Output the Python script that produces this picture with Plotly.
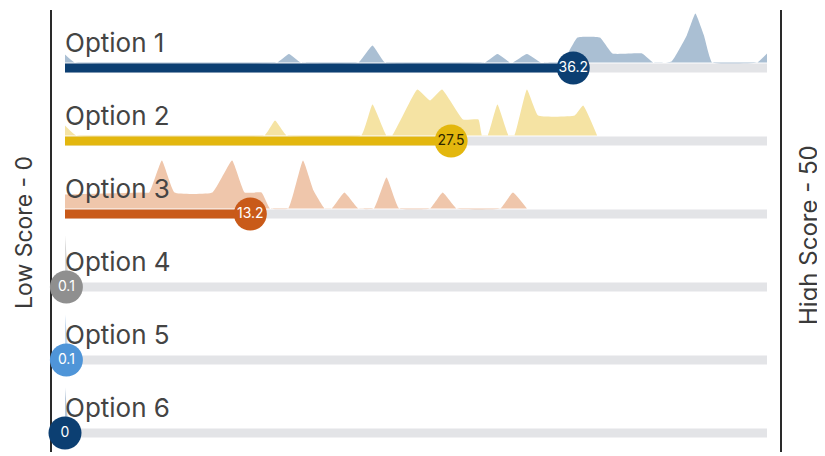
import plotly.graph_objects as go

# ---------------- data ----------------
options = ["Option 1", "Option 2", "Option 3", "Option 4", "Option 5", "Option 6"]
scores = [36.2, 27.5, 13.2, 0.1, 0.1, 0.0]
score_labels = ["36.2", "27.5", "13.2", "0.1", "0.1", "0"]

# response distributions (score, relative density) per option
dens1_x = [0, 0.7, 15.1, 15.95, 16.8, 20.9, 21.9, 22.8, 29.9, 30.8, 31.7, 31.9, 32.9, 33.9,
           35.4, 36.5, 38.1, 39.0, 41.1, 41.9, 43.2, 44.3, 44.9, 45.5, 46.1, 49.3, 50]
dens1_d = [0.16, 0, 0, 0.17, 0, 0, 0.34, 0, 0, 0.17, 0, 0, 0.17, 0,
           0, 0.5, 0.5, 0.18, 0.18, 0, 0.02, 0.55, 0.98, 0.55, 0, 0, 0.18]
dens2_x = [0, 0.8, 14.2, 14.96, 15.8, 21.1, 21.9, 22.9, 23.3, 25.1, 26.0, 26.85, 28.35, 29.45,
           29.7, 30.1, 30.8, 31.6, 32.0, 32.9, 33.7, 36.3, 36.9, 37.9]
dens2_d = [0.2, 0, 0, 0.3, 0, 0, 0.62, 0, 0, 0.92, 0.7, 0.92, 0.32, 0.32,
           0, 0, 0.62, 0, 0, 0.92, 0.4, 0.4, 0.6, 0]
dens3_x = [0, 5.4, 6.0, 6.9, 7.8, 10.5, 11.9, 12.8, 14.0, 14.6, 15.9, 16.95, 17.7, 18.5,
           19.0, 19.9, 20.9, 22.0, 22.9, 23.8, 26.0, 26.9, 27.9, 31.0, 31.9, 32.9]
dens3_d = [0.28, 0.32, 0.32, 0.96, 0.32, 0.32, 0.96, 0.32, 0.32, 0, 0, 0.96, 0.36, 0,
           0, 0.32, 0, 0, 0.62, 0, 0, 0.32, 0, 0, 0.32, 0]
dens4_x = [0, 0.25]
dens4_d = [0.92, 0]
dens5_x = [0, 0.25]
dens5_d = [0.8, 0]
dens6_x = [0, 0.25]
dens6_d = [0.8, 0]

dens_x = [dens1_x, dens2_x, dens3_x, dens4_x, dens5_x, dens6_x]
dens_d = [dens1_d, dens2_d, dens3_d, dens4_d, dens5_d, dens6_d]

# ---------------- styles ----------------
bar_colors = ["#0c3f72", "#e3b70e", "#c95a19", "#8f8f8f", "#4f95d8", "#0c3f72"]
dens_colors = ["#aabfd3", "#f5e3a3", "#efc6ab", "#d6d6d6", "#c3d8ee", "#b8c8da"]
num_colors = ["white", "#2e2600", "white", "white", "white", "white"]
track_color = "#e3e4e7"
text_color = "#444444"
FONT = "Inter, Noto Sans, sans-serif"

ROW_PX = 73.0
DENS_SCALE = 50.0 / ROW_PX   # density 1.0 -> 50 px
BASE_OFF = 5.5 / ROW_PX

fig = go.Figure()

# densities
for i in range(len(options)):
    xs = dens_x[i]
    base = i - BASE_OFF
    fig.add_trace(go.Scatter(x=[xs[0], xs[-1]], y=[base, base], mode="lines",
                             line=dict(width=0, color=dens_colors[i]),
                             hoverinfo="skip", showlegend=False))
    fig.add_trace(go.Scatter(x=xs, y=[base - d * DENS_SCALE for d in dens_d[i]],
                             mode="lines", fill="tonexty", fillcolor=dens_colors[i],
                             line=dict(width=0, color=dens_colors[i], shape="spline",
                                       smoothing=0.35),
                             hoverinfo="skip", showlegend=False))

# labels
fig.add_trace(go.Scatter(x=[0] * len(options),
                         y=[i - 23.0 / ROW_PX for i in range(len(options))],
                         mode="text", text=options, textposition="middle right",
                         textfont=dict(family=FONT, size=26, color=text_color),
                         hoverinfo="skip", showlegend=False, cliponaxis=False))

# tracks and bars
for i in range(len(options)):
    fig.add_trace(go.Scatter(x=[0, 50], y=[i, i], mode="lines",
                             line=dict(color=track_color, width=9),
                             hoverinfo="skip", showlegend=False))
    if scores[i] > 0:
        fig.add_trace(go.Scatter(x=[0, scores[i]], y=[i, i], mode="lines",
                                 line=dict(color=bar_colors[i], width=9),
                                 hoverinfo="skip", showlegend=False))

# score circles
for i in range(len(options)):
    fig.add_trace(go.Scatter(x=[scores[i]], y=[i], mode="markers+text",
                             text=[score_labels[i]], textposition="middle center",
                             textfont=dict(family=FONT, size=14, color=num_colors[i]),
                             marker=dict(size=33, color=bar_colors[i], line=dict(width=0)),
                             hoverinfo="skip", showlegend=False, cliponaxis=False))

# page body has an 8px margin, so the figure is laid out 8px smaller
W, H = 817, 448
L, R, T, B = 44, 45, 2, 4
X0_PX, PX_PER_UNIT, ROW0_PX = 57, 14.04, 60
x_lo = (L - X0_PX) / PX_PER_UNIT
x_hi = (W - R - X0_PX) / PX_PER_UNIT
y_top = (T - ROW0_PX) / ROW_PX
y_bot = (H - B - ROW0_PX) / ROW_PX

fig.update_layout(
    width=W, height=H,
    margin=dict(l=L, r=R, t=T, b=B),
    paper_bgcolor="white", plot_bgcolor="white",
    xaxis=dict(range=[x_lo, x_hi], showgrid=False, zeroline=False, showticklabels=False,
               ticks="", showline=False, fixedrange=True),
    yaxis=dict(range=[y_bot, y_top], showgrid=False, zeroline=False, showticklabels=False,
               ticks="", showline=True, mirror=True, linecolor="#2a2a2a", linewidth=2,
               layer="below traces", fixedrange=True),
    annotations=[
        dict(text="Low Score - 0", xref="paper", yref="paper",
             x=(16 - L) / (W - L - R), y=1 - (225 - T) / (H - T - B),
             textangle=-90, showarrow=False, xanchor="center", yanchor="middle",
             font=dict(family=FONT, size=23, color="#3a3a3a")),
        dict(text="High Score - 50", xref="paper", yref="paper",
             x=(800 - L) / (W - L - R), y=1 - (227 - T) / (H - T - B),
             textangle=-90, showarrow=False, xanchor="center", yanchor="middle",
             font=dict(family=FONT, size=24, color="#3a3a3a")),
    ],
)

fig.write_html("out.html")
